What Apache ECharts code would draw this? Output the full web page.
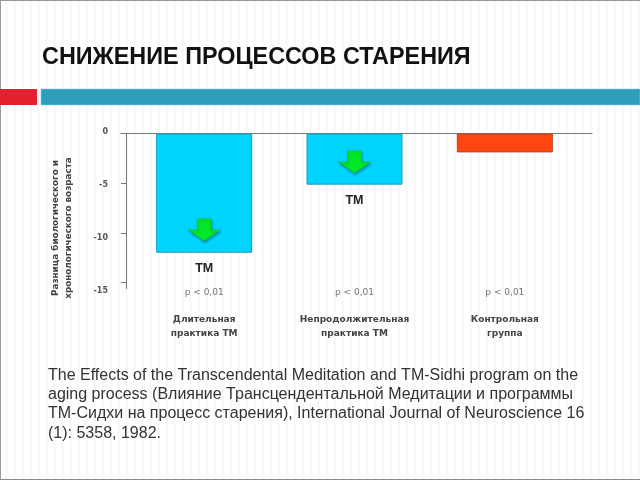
<!DOCTYPE html>
<html><head><meta charset="utf-8">
<style>
html,body{margin:0;padding:0;background:#fff}
#c{width:640px;height:480px;background:repeating-linear-gradient(90deg,#fff 0,#fff 5px,#f6f6f6 6px,#f6f6f6 7px,#fff 8px)}
</style>
<script src="https://cdn.jsdelivr.net/npm/echarts@6/dist/echarts.min.js"></script>
</head><body><div id="c"></div>
<script>
const titleText = 'СНИЖЕНИЕ ПРОЦЕССОВ СТАРЕНИЯ';
const yName = 'Разница биологического и\nхронологического возраста';
const categories = ['Длительная\nпрактика ТМ', 'Непродолжительная\nпрактика ТМ', 'Контрольная\nгруппа'];
const pValues = ['p < 0,01', 'p < 0,01', 'p < 0,01'];
const values = [-12, -5.15, -1.9];
const barColors = ['#00d4ff', '#00d4ff', '#ff4510'];
const barLabels = ['ТМ', 'ТМ', ''];
const arrowValues = [-9.7, -2.87, null];
const yTicks = [0, -5, -10, -15];
const bodyText = 'The Effects of the Transcendental Meditation and TM-Sidhi program on the\naging process (Влияние Трансцендентальной Медитации и программы\nТМ-Сидхи на процесс старения), International Journal of Neuroscience 16\n(1): 5358, 1982.';

const FONT = '"Liberation Sans", Arial, sans-serif';
const DV = '"DejaVu Sans", sans-serif';
const arrowPath = 'path://M9,0 L23,0 L23,11 L32,11 L16,22 L0,11 L9,11 Z';

const chart = echarts.init(document.getElementById('c'));
chart.setOption({
  animation: false,
  grid: [
    {left: 129, width: 451, top: 133.5, height: 155},
    {left: 121, width: 471, top: 132, height: 159}
  ],
  xAxis: [
    {type: 'category', gridIndex: 0, data: categories,
     axisLine: {show: false}, axisTick: {show: false},
     axisLabel: {
       margin: -3, lineHeight: 14, interval: 0,
       formatter: (v, i) => `{p|${pValues[i]}}\n{gap|}\n{n|${v.split('\n')[0]}}\n{n|${v.split('\n')[1]}}`,
       rich: {
         p: {fontFamily: DV, fontSize: 9, color: '#777', lineHeight: 14},
         gap: {fontSize: 6, lineHeight: 13},
         n: {fontFamily: DV, fontSize: 9, fontWeight: 'bold', color: '#444', lineHeight: 14}
       }
     }},
    {type: 'category', gridIndex: 1, position: 'top', offset: -1.5, data: [''],
     axisLine: {show: true, lineStyle: {color: '#777', width: 1}},
     axisTick: {show: false}, axisLabel: {show: false}}
  ],
  yAxis: [
    {type: 'value', gridIndex: 0, min: -15.6, max: 0, offset: 3,
     splitLine: {show: false},
     axisLine: {show: true, onZero: false, lineStyle: {color: '#777', width: 1}},
     axisTick: {show: true, customValues: yTicks, length: 5, lineStyle: {color: '#777'}},
     axisLabel: {show: false}},
    {type: 'value', gridIndex: 1, min: -15, max: 0, interval: 5,
     splitLine: {show: false}, axisLine: {show: false}, axisTick: {show: false},
     axisLabel: {margin: 13, fontFamily: DV, fontSize: 8, fontWeight: 'bold', color: '#555'}}
  ],
  series: [
    {type: 'bar', xAxisIndex: 0, yAxisIndex: 0, barWidth: 96,
     data: values.map((v, i) => ({
       value: v,
       itemStyle: {color: barColors[i], borderColor: i === 2 ? '#b5441f' : '#1a9ab8', borderWidth: 1},
       label: {show: !!barLabels[i], position: 'bottom', distance: 9, formatter: barLabels[i],
               fontFamily: FONT, fontSize: 12.5, fontWeight: 'bold', color: '#222'}
     }))},
    {type: 'scatter', xAxisIndex: 0, yAxisIndex: 0, symbol: arrowPath, symbolSize: [32, 22],
     itemStyle: {color: '#00fa00', borderColor: '#2aa52a', borderWidth: 0.8,
                 shadowColor: 'rgba(0,0,0,0.3)', shadowBlur: 2, shadowOffsetX: 1, shadowOffsetY: 2},
     data: arrowValues}
  ],
  graphic: [
    {type: 'rect', shape: {x: 0, y: 0, width: 640, height: 1}, style: {fill: '#999'}, silent: true},
    {type: 'rect', shape: {x: 0, y: 0, width: 1, height: 480}, style: {fill: '#999'}, silent: true},
    {type: 'rect', shape: {x: 0, y: 479, width: 640, height: 1}, style: {fill: '#888'}, silent: true},
    {type: 'rect', shape: {x: 0, y: 89, width: 37, height: 16}, style: {fill: '#e2202e'}, silent: true},
    {type: 'rect', shape: {x: 41, y: 89, width: 599, height: 16}, style: {fill: '#2d9fbd', stroke: '#7fd0e0', lineWidth: 0.6}, silent: true},
    {type: 'text', x: 42, y: 58, style: {text: titleText, fontFamily: FONT, fontSize: 23.4, fontWeight: 'bold', fill: '#111', verticalAlign: 'middle'}},
    {type: 'text', x: 48, y: 365.5, style: {text: bodyText, fontFamily: FONT, fontSize: 16, lineHeight: 19.4, fill: '#333'}},
    {type: 'text', x: 62, y: 228, rotation: Math.PI / 2, style: {text: yName, fontFamily: DV, fontSize: 8.8, fontWeight: 'bold', lineHeight: 13.5, fill: '#444', align: 'center', verticalAlign: 'middle'}}
  ]
});
</script></body></html>
